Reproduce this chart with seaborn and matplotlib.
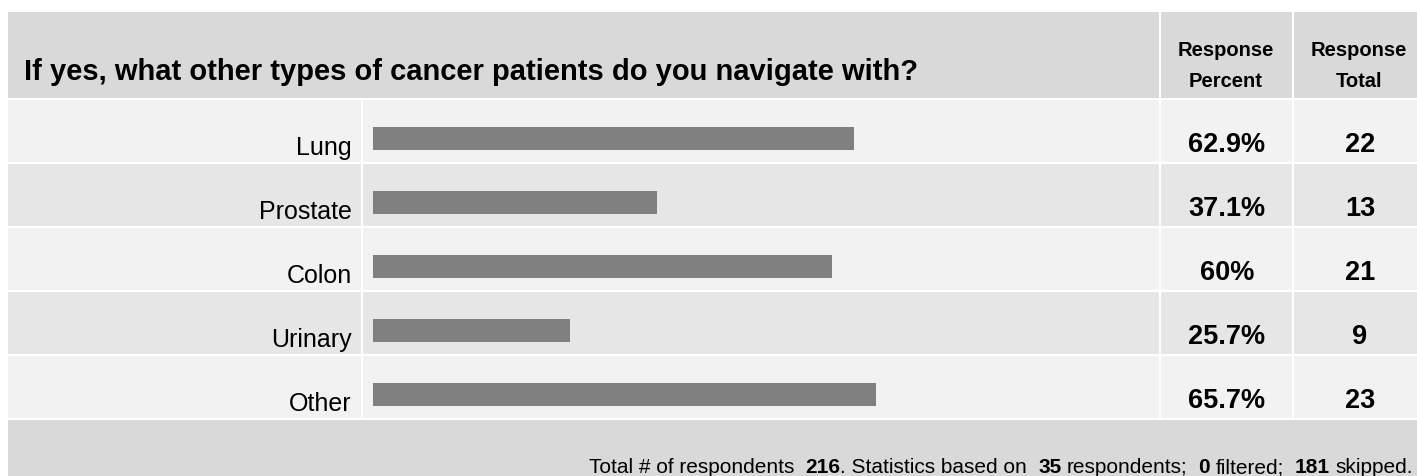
import matplotlib
matplotlib.use("Agg")
import matplotlib.pyplot as plt
import matplotlib.transforms as mtransforms
from matplotlib.patches import Rectangle
import seaborn as sns

# Datos de la encuesta
title = "If yes, what other types of cancer patients do you navigate with?"
categories = ["Lung", "Prostate", "Colon", "Urinary", "Other"]
percents = [62.9, 37.1, 60.0, 25.7, 65.7]
percent_labels = ["62.9%", "37.1%", "60%", "25.7%", "65.7%"]
totals = [22, 13, 21, 9, 23]
footer_texts = ["Total # of respondents", "216", ". Statistics based on", "35",
                "respondents;", "0", "filtered;", "181", "skipped."]
footer_bold = [False, True, False, True, False, True, False, True, False]
footer_gaps = [11, 0, 11, 5.5, 11, 5.5, 11, 5.5, 0]   # px after each piece

sns.set_style("white")
plt.rcParams["font.family"] = ["Liberation Sans", "DejaVu Sans"]
plt.rcParams["text.color"] = "black"

W, H = 1417, 476
fig = plt.figure(figsize=(W / 100, H / 100), dpi=100)

# Fondo de la tabla en coordenadas de pixel
bg = fig.add_axes([0, 0, 1, 1])
bg.set_xlim(0, W)
bg.set_ylim(H, 0)
bg.axis("off")

head_c = "#d9d9d9"
row_top, row_h = 99, 64
n = len(categories)
bottom = row_top + n * row_h
bg.add_patch(Rectangle((8, 12), W, row_top - 12, color=head_c, lw=0))
for i in range(n):
    c = "#f2f2f2" if i % 2 == 0 else "#e6e6e6"
    bg.add_patch(Rectangle((8, row_top + i * row_h), W, row_h, color=c, lw=0))
bg.add_patch(Rectangle((8, bottom), W, H - bottom, color=head_c, lw=0))

# Lineas blancas de la cuadricula
for i in range(n + 1):
    bg.plot([8, W], [row_top + i * row_h] * 2, color="white", lw=1.5)
bg.plot([362, 362], [row_top, bottom], color="white", lw=1.5)
for xs in (1160, 1293):
    bg.plot([xs, xs], [12, bottom], color="white", lw=1.5)

# Encabezado
bg.text(24, 80, title, fontsize=21, fontweight="bold", va="baseline")
for cx, second in ((1226, "Percent"), (1359, "Total")):
    bg.text(cx, 56, "Response", fontsize=14.5, fontweight="bold", ha="center", va="baseline")
    bg.text(cx, 87, second, fontsize=14.5, fontweight="bold", ha="center", va="baseline")

# Barras
ax = fig.add_axes([362 / W, (H - bottom) / H, (1160 - 362) / W, (bottom - row_top) / H])
ax.patch.set_alpha(0)
sns.barplot(x=percents, y=categories, orient="h", color="#808080", saturation=1,
            width=0.36, linewidth=0, ax=ax)
px_per_pct = 7.65
ax.set_xlim(-11 / px_per_pct, (1160 - 373) / px_per_pct)
off = 7.5 / row_h
ax.set_ylim(n - 0.5 - off, -0.5 - off)
sns.despine(ax=ax, left=True, bottom=True)
ax.set_xticks([])
ax.set(xlabel="", ylabel="")
ax.tick_params(axis="y", length=0, pad=7.2, labelsize=18, labelcolor="black")
lab_shift = mtransforms.ScaledTranslation(0, -16.5 / 100, fig.dpi_scale_trans)
for lab in ax.get_yticklabels():
    lab.set_va("baseline")
    lab.set_transform(lab.get_transform() + lab_shift)

# Columnas de valores
tr = mtransforms.blended_transform_factory(bg.transData, ax.transData)
val_shift = mtransforms.ScaledTranslation(0, -13.5 / 100, fig.dpi_scale_trans)
for i, (p, t) in enumerate(zip(percent_labels, totals)):
    bg.text(1227, i, p, transform=tr + val_shift, fontsize=19.5, fontweight="bold",
            ha="center", va="baseline")
    bg.text(1360, i, str(t), transform=tr + val_shift, fontsize=19.5, fontweight="bold",
            ha="center", va="baseline")

# Pie de tabla (de derecha a izquierda)
renderer = fig.canvas.get_renderer()
x = 1413
for s, b, g in reversed(list(zip(footer_texts, footer_bold, footer_gaps))):
    x -= g
    t = bg.text(x, 473, s, fontsize=15, fontweight="bold" if b else "normal",
                ha="right", va="baseline")
    x -= t.get_window_extent(renderer).width

fig.savefig("out.png", dpi=100)
